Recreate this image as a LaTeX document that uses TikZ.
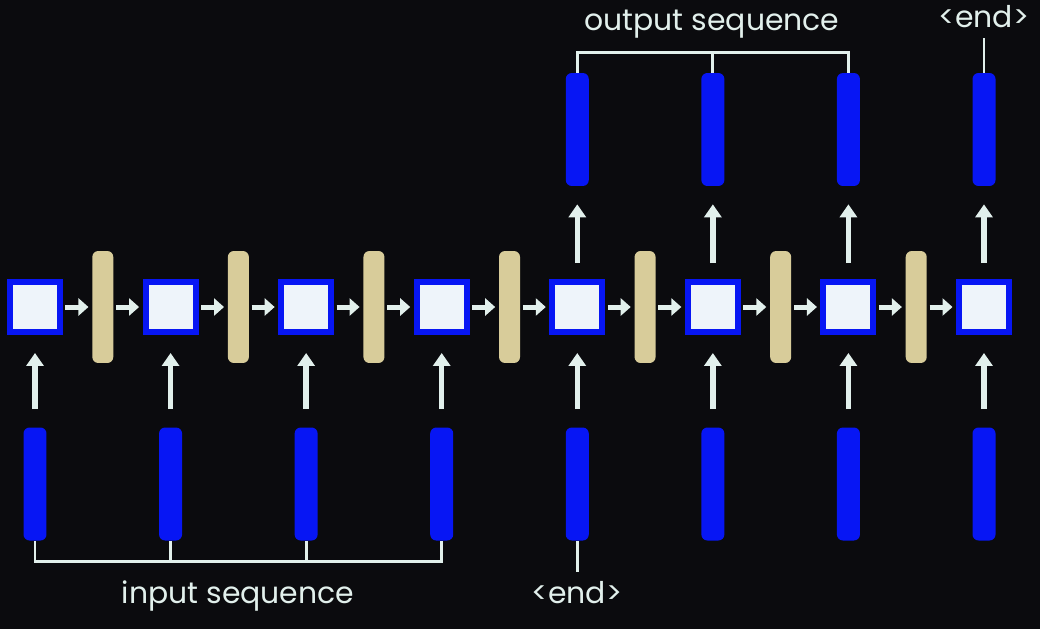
\documentclass[tikz,border=0pt]{standalone}
\usepackage{fontspec}
\setmainfont{Poppins}
\usetikzlibrary{arrows.meta}
\definecolor{bg}{HTML}{0B0B0E}
\definecolor{vblue}{HTML}{0716F4}
\definecolor{sqfill}{HTML}{EEF4FA}
\definecolor{tan}{HTML}{D8CC9A}
\definecolor{pale}{HTML}{E2F0EC}
\tikzset{
  cell/.style={draw=vblue, fill=sqfill, line width=0.12cm, minimum size=1.0cm, inner sep=0pt},
  ctx/.style={fill=tan, rounded corners=0.12cm, minimum width=0.42cm, minimum height=2.24cm, inner sep=0pt},
  vec/.style={fill=vblue, rounded corners=0.12cm, minimum width=0.46cm, minimum height=2.26cm, inner sep=0pt},
  harrow/.style={draw=pale, line width=0.1cm, -{Triangle[length=0.2cm,width=0.34cm]}, shorten <=0.05cm, shorten >=0.07cm},
  varrow/.style={draw=pale, line width=0.11cm, -{Triangle[length=0.26cm,width=0.34cm]}},
  brk/.style={draw=pale, line width=0.055cm},
  lbl/.style={text=pale, font=\fontsize{17}{19}\selectfont, inner sep=0pt, anchor=base}
}
\begin{document}
\begin{tikzpicture}[x=0.02cm,y=-0.02cm]
\fill[bg] (0,0) rectangle (1040,629);
\useasboundingbox (0,0) rectangle (1040,629);
% squares
\foreach \k in {1,...,8}{
  \pgfmathsetmacro{\xx}{35+135.57*(\k-1)}
  \node[cell] (s\k) at (\xx,307) {};
  \node[vec] (i\k) at (\xx,484) {};
}
\foreach \k in {1,...,7}{
  \pgfmathsetmacro{\xx}{102.8+135.57*(\k-1)}
  \node[ctx] (b\k) at (\xx,307) {};
}
\foreach \k in {5,...,8}{
  \pgfmathsetmacro{\xx}{35+135.57*(\k-1)}
  \node[vec] (o\k) at (\xx,129.5) {};
}
% horizontal arrows
\foreach \k [evaluate=\k as \n using int(\k+1)] in {1,...,7}{
  \draw[harrow] (s\k.east) -- (b\k.west);
  \draw[harrow] (b\k.east) -- (s\n.west);
}
% vertical arrows
\foreach \k in {1,...,8}{
  \draw[varrow, shorten <=0.36cm, shorten >=0.36cm] (i\k.north) -- (s\k.south);
}
\foreach \k in {5,...,8}{
  \draw[varrow, shorten <=0.32cm, shorten >=0.36cm] (s\k.north) -- (o\k.south);
}
% labels
\node[lbl] (inl) at (238,603) {input sequence};
\node[lbl] (outl) at (712,30) {output sequence};
\node[lbl] (endb) at (577,603) {<end>};
\node[lbl] (endt) at (984,27) {<end>};
% brackets
\draw[brk] (i1.south) -- ++(0,21) -| (i4.south);
\draw[brk] (i2.south) -- ++(0,21);
\draw[brk] (i3.south) -- ++(0,21);
\draw[brk] (i5.south) -- ([yshift=0.18cm]i5.south |- endb.north);
\draw[brk] (o5.north) -- ++(0,-20) -| (o7.north);
\draw[brk] (o6.north) -- ++(0,-20);
\draw[brk] (o8.north) -- ([yshift=-0.2cm]o8.north |- endt.south);
\end{tikzpicture}
\end{document}
